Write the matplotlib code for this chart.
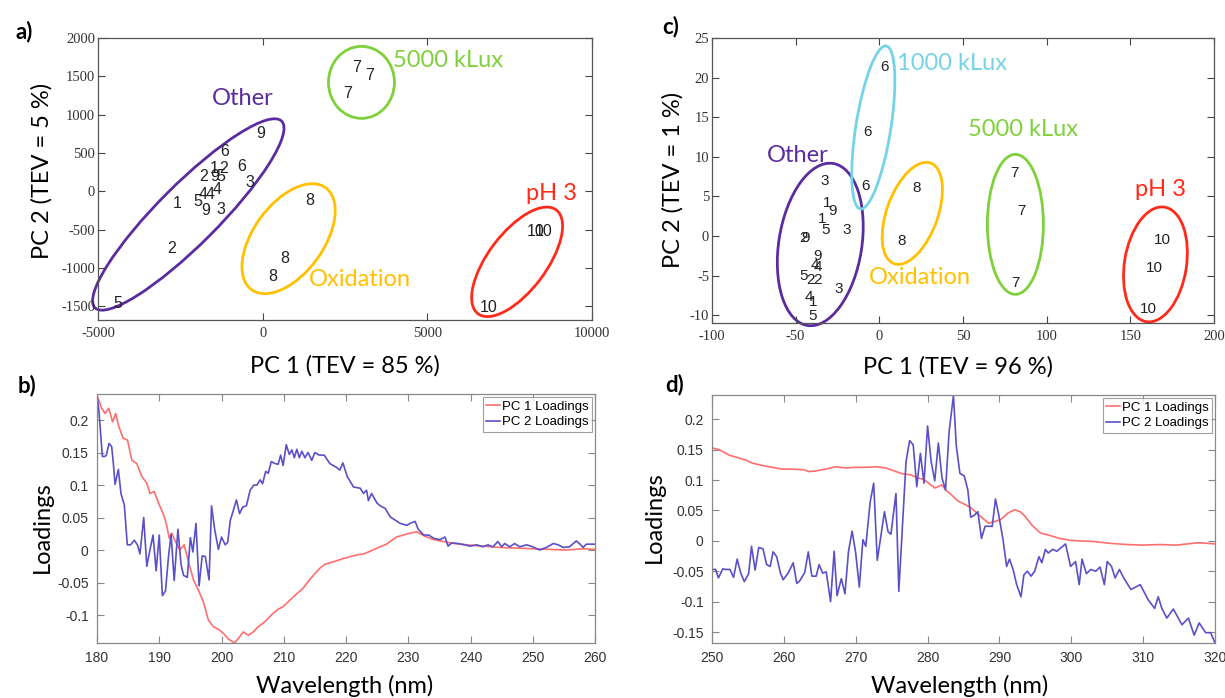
import matplotlib
matplotlib.use('Agg')
import matplotlib.pyplot as plt
from matplotlib.patches import Ellipse
from matplotlib.transforms import ScaledTranslation

plt.rcParams['axes.unicode_minus'] = False

# -------------------------
# Panel a: PCA scores (PC1 vs PC2)
# -------------------------
a_labels = ['9', '6', '1', '2', '6', '3', '2', '9', '5', '4', '5', '4', '4', '1', '9', '3',
            '2', '5', '8', '8', '8', '7', '7', '7', '10', '10', '10']
a_x = [-61, -1152, -1485, -1182, -637, -395, -1788, -1455, -1273, -1394, -1970, -1818, -1606,
       -2606, -1728, -1273, -2758, -4394, 1424, 666, 303, 2848, 3242, 2575, 8302, 8544, 6847]
a_y = [750, 513, 302, 302, 329, 118, 197, 197, 197, 26, -132, -40, -40,
       -158, -250, -237, -750, -1461, -119, -882, -1106, 1618, 1513, 1276, -527, -527, -1514]

a_groups = ['Other', 'Oxidation', '5000 kLux', 'pH 3']
a_group_x = [-607, 2939, 5635, 8756]
a_group_y = [1210, -1158, 1710, -26]
a_ring_x = [-2258, 787, 3000, 7726]
a_ring_y = [-303, -619, 1421, -921]

# -------------------------
# Panel c: PCA scores (PC1 vs PC2)
# -------------------------
c_labels = ['6', '6', '6', '3', '1', '9', '1', '5', '3', '2', '9', '9', '4', '4', '5', '2',
            '2', '3', '4', '1', '5', '8', '8', '7', '7', '7', '10', '10', '10']
c_x = [3, -7.2, -8.4, -32.9, -31, -28, -34, -32, -19.7, -45.5, -44, -37, -38.5, -37, -45.4,
       -41, -37, -24.5, -42.4, -39.4, -40, 22.1, 13.1, 80.7, 84.9, 81.3, 169, 164.4, 160.8]
c_y = [21.3, 13.1, 6.3, 7.0, 4.1, 3.1, 2.2, 0.8, 0.8, -0.2, -0.2, -2.5, -3.7, -3.9, -5.0,
       -5.6, -5.6, -6.7, -7.7, -8.4, -10.1, 6.0, -0.6, 8.0, 3.1, -5.9, -0.5, -4.0, -9.2]

c_groups = ['Other', '1000 kLux', 'Oxidation', '5000 kLux', 'pH 3']
c_group_x = [-49, 43.6, 24, 86, 168]
c_group_y = [10.2, 21.8, -5.2, 13.4, 5.9]
c_ring_x = [-35.3, -3.6, 19.7, 81.3, 165]
c_ring_y = [-1.08, 13.7, 2.85, 1.46, -3.6]

# -------------------------
# Panel b: loadings 180-260 nm
# -------------------------
b_pc1_nm = [180.0, 180.75, 181.3, 181.9, 182.5, 183.0, 183.5, 184.2, 184.9, 185.6, 186.4, 187.2,
            188.0, 188.5, 189.2, 189.9, 190.7, 191.2, 191.6, 192.0, 192.5, 193.3, 194.0, 194.7,
            195.5, 196.3, 197.1, 197.9, 198.7, 199.5, 200.3, 201.1, 202.1, 202.7, 203.5, 204.3,
            205.1, 205.9, 207.0, 208.0, 209.1, 209.9, 211.0, 212.0, 213.1, 214.2, 215.8, 216.6,
            218.0, 219.6, 221.5, 222.8, 223.6, 225.0, 226.5, 228.1, 229.2, 230.3, 231.4, 232.7,
            234.1, 235.7, 237.3, 239.4, 242.0, 244.7, 247.3, 250.0, 252.7, 255.3, 258.1, 260.0]
b_pc1 = [0.238, 0.218, 0.210, 0.218, 0.197, 0.210, 0.190, 0.172, 0.169, 0.138, 0.133, 0.113,
         0.103, 0.087, 0.090, 0.072, 0.054, 0.038, 0.018, 0.026, 0.015, 0.000, 0.008, -0.018,
         -0.046, -0.062, -0.080, -0.108, -0.118, -0.122, -0.128, -0.137, -0.143, -0.136, -0.126, -0.131,
         -0.126, -0.118, -0.110, -0.100, -0.091, -0.087, -0.077, -0.068, -0.059, -0.045, -0.028, -0.022,
         -0.018, -0.013, -0.008, -0.006, -0.003, 0.003, 0.009, 0.020, 0.023, 0.026, 0.028, 0.021,
         0.016, 0.013, 0.010, 0.008, 0.006, 0.004, 0.003, 0.002, 0.001, 0.000, 0.002, 0.001]

b_pc2_nm = [180.0, 180.3, 180.86, 181.28, 181.5, 181.93, 182.36, 182.63, 182.9, 183.43, 183.85, 184.39,
            184.87, 185.4, 186.0, 186.5, 186.9, 187.5, 188.0, 188.5, 189.0, 189.5, 190.0, 190.5,
            191.0, 191.5, 191.9, 192.4, 193.0, 193.5, 193.9, 194.5, 195.0, 195.4, 195.9, 196.4,
            196.9, 197.4, 198.0, 198.4, 198.9, 199.5, 200.0, 200.6, 201.0, 201.4, 202.4, 202.9,
            203.4, 204.0, 204.6, 205.2, 205.7, 206.2, 206.6, 207.1, 207.5, 208.0, 208.6, 209.1,
            209.5, 209.9, 210.4, 210.9, 211.3, 211.7, 212.1, 212.5, 212.9, 213.4, 213.9, 214.5,
            215.0, 215.7, 216.5, 217.4, 218.5, 219.0, 219.5, 220.2, 221.2, 222.3, 222.8, 223.3,
            223.6, 224.1, 225.0, 225.5, 226.3, 227.1, 227.9, 228.7, 229.8, 230.3, 231.1, 231.6,
            232.5, 233.3, 234.1, 235.1, 235.9, 236.4, 237.0, 238.0, 239.1, 239.9, 241.0, 242.0,
            242.8, 243.6, 244.4, 245.0, 245.5, 246.3, 247.1, 247.9, 249.0, 250.0, 251.1, 252.2,
            253.3, 254.1, 254.9, 255.9, 257.0, 257.6, 258.1, 258.6, 260.0]
b_pc2 = [0.238, 0.215, 0.144, 0.144, 0.146, 0.164, 0.159, 0.133, 0.101, 0.124, 0.087, 0.069,
         0.008, 0.008, 0.015, 0.008, -0.006, 0.050, -0.025, 0.000, 0.023, -0.032, 0.023, -0.070,
         -0.063, -0.009, 0.024, -0.047, 0.032, -0.022, -0.039, -0.042, 0.019, -0.003, 0.041, -0.055,
         -0.009, -0.010, -0.046, 0.068, 0.032, 0.001, 0.020, 0.008, 0.012, 0.045, 0.077, 0.056,
         0.066, 0.068, 0.092, 0.100, 0.100, 0.108, 0.102, 0.121, 0.118, 0.136, 0.133, 0.132,
         0.146, 0.130, 0.162, 0.147, 0.154, 0.142, 0.155, 0.142, 0.152, 0.142, 0.150, 0.138,
         0.150, 0.146, 0.146, 0.133, 0.127, 0.123, 0.134, 0.113, 0.097, 0.095, 0.087, 0.092,
         0.076, 0.087, 0.072, 0.068, 0.064, 0.051, 0.046, 0.041, 0.038, 0.041, 0.044, 0.032,
         0.023, 0.023, 0.018, 0.016, 0.020, 0.006, 0.011, 0.010, 0.008, 0.006, 0.008, 0.005,
         0.008, 0.005, 0.013, 0.005, 0.010, 0.005, 0.010, 0.005, 0.008, 0.005, 0.000, 0.004,
         0.010, 0.008, 0.004, 0.005, 0.014, 0.009, 0.004, 0.009, 0.009]

# -------------------------
# Panel d: loadings 250-320 nm
# -------------------------
d_pc1_nm = [250.0, 251.0, 252.4, 253.8, 254.7, 255.6, 257.0, 258.4, 259.8, 261.2, 262.8, 263.5,
            264.4, 265.8, 267.2, 268.6, 270.0, 271.4, 272.8, 274.2, 275.6, 276.6, 277.6, 278.5,
            279.5, 281.0, 282.0, 282.5, 283.3, 284.3, 285.2, 286.1, 287.3, 288.5, 289.4, 290.3,
            291.2, 292.1, 292.9, 293.6, 294.5, 295.7, 297.0, 298.4, 299.8, 301.2, 303.1, 305.4,
            307.7, 310.0, 312.3, 314.6, 316.9, 317.8, 320.0]
d_pc1 = [0.153, 0.150, 0.141, 0.136, 0.133, 0.128, 0.124, 0.121, 0.118, 0.118, 0.117, 0.114,
         0.115, 0.118, 0.122, 0.120, 0.121, 0.121, 0.122, 0.120, 0.114, 0.110, 0.109, 0.104,
         0.101, 0.087, 0.092, 0.084, 0.076, 0.065, 0.060, 0.054, 0.041, 0.029, 0.032, 0.036,
         0.046, 0.051, 0.048, 0.040, 0.026, 0.013, 0.009, 0.004, 0.001, 0.000, -0.001, -0.004,
         -0.006, -0.007, -0.006, -0.007, -0.004, -0.003, -0.005]

d_pc2_nm = [250.0, 250.5, 250.9, 251.5, 251.9, 252.5, 253.0, 253.5, 254.0, 254.5, 255.1, 255.5,
            256.0, 256.5, 257.1, 257.6, 258.1, 258.5, 259.0, 259.5, 259.9, 260.6, 261.3, 261.8,
            262.2, 262.9, 263.4, 263.9, 264.5, 264.9, 265.4, 265.9, 266.5, 267.0, 267.4, 268.0,
            268.5, 269.0, 269.5, 270.0, 270.5, 271.0, 271.4, 272.0, 272.5, 273.0, 274.0, 274.5,
            274.9, 275.6, 276.0, 277.0, 277.5, 278.0, 278.5, 279.0, 279.5, 280.0, 280.5, 281.0,
            281.5, 282.0, 282.5, 283.0, 283.6, 284.0, 284.5, 285.1, 285.6, 286.0, 286.5, 287.0,
            287.5, 288.0, 288.5, 289.0, 289.45, 289.9, 290.5, 291.0, 291.4, 291.9, 292.4, 293.0,
            293.4, 293.9, 294.4, 294.9, 295.5, 295.9, 296.4, 296.8, 297.4, 298.0, 299.2, 299.9,
            300.6, 301.1, 301.5, 302.1, 302.7, 303.4, 304.0, 304.6, 305.0, 305.6, 306.1, 306.7,
            307.3, 308.3, 309.6, 310.7, 311.6, 312.1, 312.6, 313.3, 314.2, 315.4, 316.3, 317.1,
            317.8, 318.7, 319.4, 320.0]
d_pc2 = [-0.047, -0.047, -0.061, -0.046, -0.047, -0.047, -0.060, -0.030, -0.053, -0.067, -0.054, -0.009,
         -0.048, -0.011, -0.013, -0.039, -0.042, -0.018, -0.026, -0.052, -0.064, -0.053, -0.036, -0.070,
         -0.066, -0.052, -0.018, -0.058, -0.058, -0.039, -0.053, -0.051, -0.100, -0.017, -0.090, -0.062,
         -0.087, -0.017, 0.016, -0.020, -0.076, 0.002, -0.009, 0.063, 0.095, -0.032, 0.048, 0.015,
         0.011, 0.078, -0.083, 0.130, 0.165, 0.158, 0.089, 0.144, 0.095, 0.189, 0.130, 0.099,
         0.161, 0.104, 0.084, 0.180, 0.239, 0.156, 0.111, 0.107, 0.084, 0.039, 0.042, 0.048,
         0.004, 0.024, 0.024, 0.024, 0.069, 0.043, 0.002, -0.042, -0.030, -0.047, -0.072, -0.092,
         -0.056, -0.050, -0.058, -0.050, -0.026, -0.036, -0.014, -0.020, -0.014, -0.017, -0.005, -0.042,
         -0.034, -0.072, -0.030, -0.054, -0.047, -0.050, -0.043, -0.072, -0.034, -0.042, -0.061, -0.047,
         -0.061, -0.080, -0.072, -0.097, -0.111, -0.092, -0.111, -0.127, -0.112, -0.138, -0.127, -0.155,
         -0.135, -0.151, -0.151, -0.168]

# -------------------------
# Styles
# -------------------------
W, H = 1225, 698
group_colors = {'Other': '#5a2ca0', 'Oxidation': '#ffc000', '5000 kLux': '#7fd13b',
                'pH 3': '#ff2a1a', '1000 kLux': '#74d3e6'}
# ellipse sizes in pixels (major, minor, angle)
a_ring_size = [(264, 60, 45), (126, 70, 54), (66, 72, 0), (130, 58, 53)]
c_ring_size = [(164, 83, 81), (165, 35, 81), (107, 51, 70), (140, 56, 90), (116, 62, 81)]
red = '#ff6e6e'
blue = '#5a50c8'
label_font = 'Lato'


def box(x0, y0, x1, y1):
    return [x0 / W, 1 - y1 / H, (x1 - x0) / W, (y1 - y0) / H]


def ring(ax, cx, cy, size, color):
    w, h, ang = size
    tr = fig.dpi_scale_trans + ScaledTranslation(cx, cy, ax.transData)
    ax.add_patch(Ellipse((0, 0), w / 100, h / 100, angle=ang, transform=tr,
                         fill=False, ec=color, lw=2.0, clip_on=False))


def style_top(ax):
    ax.tick_params(direction='in', top=True, right=True, length=5, width=0.8,
                   color='#444444', labelcolor='#333333', labelsize=10.5,
                   labelfontfamily='Liberation Serif')
    ax.tick_params(axis='x', pad=5)
    ax.tick_params(axis='y', pad=2)
    for s in ax.spines.values():
        s.set_color('#555555')
        s.set_linewidth(0.9)


def style_bottom(ax):
    ax.tick_params(direction='in', top=True, right=True, length=5, width=0.8,
                   color='#888888', labelcolor='#333333', labelsize=10,
                   labelfontfamily='Liberation Sans', pad=6)
    for s in ax.spines.values():
        s.set_color('#888888')
        s.set_linewidth(0.9)


fig = plt.figure(figsize=(W / 100, H / 100), dpi=100)

# ---- a ----
ax_a = fig.add_axes(box(98, 38, 592, 320))
ax_a.set_xlim(-5000, 10000)
ax_a.set_ylim(-1680, 2000)
ax_a.set_xticks([-5000, 0, 5000, 10000])
ax_a.set_yticks(range(-1500, 2001, 500))
style_top(ax_a)
for lab, x, y in zip(a_labels, a_x, a_y):
    ax_a.text(x, y, lab, ha='center', va='center', fontsize=11.5,
              family='Liberation Sans', color='#222222')
for g, x, y, rx, ry, sz in zip(a_groups, a_group_x, a_group_y, a_ring_x, a_ring_y, a_ring_size):
    ax_a.text(x, y, g, ha='center', va='center', fontsize=17, family=label_font,
              color=group_colors[g])
    ring(ax_a, rx, ry, sz, group_colors[g])

# ---- c ----
ax_c = fig.add_axes(box(712, 38, 1214, 323))
ax_c.set_xlim(-100, 200)
ax_c.set_ylim(-11, 25)
ax_c.set_xticks(range(-100, 201, 50))
ax_c.set_yticks(range(-10, 26, 5))
style_top(ax_c)
for lab, x, y in zip(c_labels, c_x, c_y):
    ax_c.text(x, y, lab, ha='center', va='center', fontsize=11,
              family='Liberation Sans', color='#222222')
for g, x, y, rx, ry, sz in zip(c_groups, c_group_x, c_group_y, c_ring_x, c_ring_y, c_ring_size):
    ax_c.text(x, y, g, ha='center', va='center', fontsize=17, family=label_font,
              color=group_colors[g])
    ring(ax_c, rx, ry, sz, group_colors[g])

# ---- b ----
ax_b = fig.add_axes(box(97, 394, 595, 643))
ax_b.plot(b_pc1_nm, b_pc1, color=red, lw=1.2, label='PC 1 Loadings')
ax_b.plot(b_pc2_nm, b_pc2, color=blue, lw=1.2, label='PC 2 Loadings')
ax_b.set_xlim(180, 260)
ax_b.set_ylim(-0.143, 0.24)
ax_b.set_xticks(range(180, 261, 10))
ax_b.set_yticks([-0.1, -0.05, 0, 0.05, 0.1, 0.15, 0.2])
ax_b.set_yticklabels(['-0.1', '-0.05', '0', '0.05', '0.1', '0.15', '0.2'])
style_bottom(ax_b)

# ---- d ----
ax_d = fig.add_axes(box(712, 395, 1215, 643))
ax_d.plot(d_pc1_nm, d_pc1, color=red, lw=1.2, label='PC 1 Loadings')
ax_d.plot(d_pc2_nm, d_pc2, color=blue, lw=1.2, label='PC 2 Loadings')
ax_d.set_xlim(250, 320)
ax_d.set_ylim(-0.168, 0.24)
ax_d.set_xticks(range(250, 321, 10))
ax_d.set_yticks([-0.15, -0.1, -0.05, 0, 0.05, 0.1, 0.15, 0.2])
ax_d.set_yticklabels(['-0.15', '-0.1', '-0.05', '0', '0.05', '0.1', '0.15', '0.2'])
style_bottom(ax_d)

for ax in (ax_b, ax_d):
    leg = ax.legend(loc='upper right', frameon=True, fancybox=False,
                    handlelength=1.1, handletextpad=0.1, borderpad=0.25,
                    labelspacing=0.25, borderaxespad=0.25,
                    prop={'family': 'Liberation Sans', 'size': 9.5})
    leg.get_frame().set_edgecolor('#888888')
    leg.get_frame().set_linewidth(0.8)


# ---- axis labels and panel letters (placed in pixel positions) ----
def ftext(x, y, s, **kw):
    fig.text(x / W, 1 - y / H, s, ha='center', va='center', family=label_font, **kw)


ftext(345, 366, 'PC 1 (TEV = 85 %)', fontsize=17)
ftext(42, 171, 'PC 2 (TEV = 5 %)', fontsize=17, rotation=90)
ftext(958, 367, 'PC 1 (TEV = 96 %)', fontsize=17)
ftext(673, 180, 'PC 2 (TEV = 1 %)', fontsize=17, rotation=90)
ftext(345, 686, 'Wavelength (nm)', fontsize=17)
ftext(42, 527, 'Loadings', fontsize=17, rotation=90)
ftext(960, 686, 'Wavelength (nm)', fontsize=17)
ftext(654, 517, 'Loadings', fontsize=17, rotation=90)
ftext(24, 32, 'a)', fontsize=16, weight='bold')
ftext(27, 386, 'b)', fontsize=16, weight='bold')
ftext(671, 27, 'c)', fontsize=16, weight='bold')
ftext(675, 385, 'd)', fontsize=16, weight='bold')

fig.savefig('out.png', dpi=100, facecolor='white')
